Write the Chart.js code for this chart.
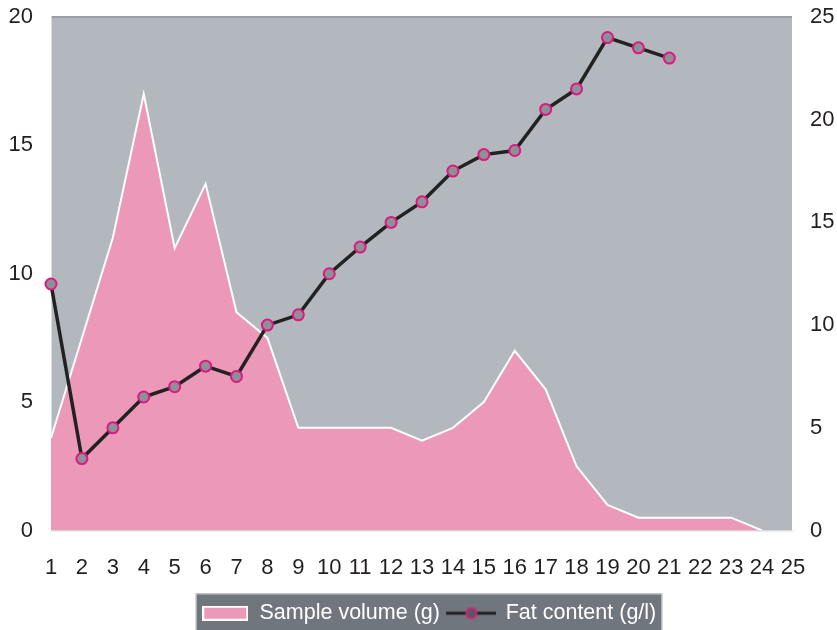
<!DOCTYPE html>
<html>
<head>
<meta charset="utf-8">
<title>Sample volume and fat content</title>
<script src="https://cdn.jsdelivr.net/npm/chart.js@4/dist/chart.umd.min.js"></script>
<style>
  body { margin: 0; background: #fff; }
</style>
</head>
<body>
<canvas id="myChart" width="837" height="630"></canvas>
<script>
// Data
var xValues = ["1", "2", "3", "4", "5", "6", "7", "8", "9", "10", "11", "12", "13",
  "14", "15", "16", "17", "18", "19", "20", "21", "22", "23", "24", "25"];
var volumeValues = [3.6, 7.5, 11.4, 17, 11, 13.5, 8.5, 7.5, 4, 4, 4, 4, 3.5,
  4, 5, 7, 5.5, 2.5, 1, 0.5, 0.5, 0.5, 0.5, 0, null];
var fatValues = [12, 3.5, 5, 6.5, 7, 8, 7.5, 10, 10.5, 12.5, 13.8, 15, 16,
  17.5, 18.3, 18.5, 20.5, 21.5, 24, 23.5, 23, null, null, null, null];
var volumeLabel = "Sample volume (g)";
var fatLabel = "Fat content (g/l)";
var leftMax = 20;
var rightMax = 25;

var pink = "#eb98b9";
var magenta = "#e0177f";
var font = { family: "'Liberation Sans', Arial, sans-serif", size: 22 };
var legendFont = { family: "'Liberation Sans', Arial, sans-serif", size: 21.5 };

// little legend symbols
function areaIcon() {
  var c = document.createElement("canvas");
  c.width = 46; c.height = 15;
  var ctx = c.getContext("2d");
  ctx.fillStyle = "#fff";
  ctx.fillRect(0, 0, 46, 15);
  ctx.fillStyle = pink;
  ctx.fillRect(2, 2, 42, 11);
  return c;
}
function lineIcon() {
  var c = document.createElement("canvas");
  c.width = 50; c.height = 14;
  var ctx = c.getContext("2d");
  ctx.strokeStyle = "#222";
  ctx.lineWidth = 3;
  ctx.beginPath();
  ctx.moveTo(0, 7); ctx.lineTo(50, 7);
  ctx.stroke();
  ctx.beginPath();
  ctx.arc(25, 7, 5, 0, Math.PI * 2);
  ctx.fillStyle = "#555a60";
  ctx.fill();
  ctx.strokeStyle = magenta;
  ctx.lineWidth = 2;
  ctx.stroke();
  return c;
}

// grey plot area + legend box
var backgrounds = {
  id: "backgrounds",
  beforeDraw: function (chart) {
    var ctx = chart.ctx;
    var a = chart.chartArea;
    ctx.save();
    ctx.fillStyle = "#b3b8bf";
    ctx.fillRect(a.left, a.top, a.right - a.left, a.bottom - a.top);
    ctx.strokeStyle = "#9a9ea5";
    ctx.lineWidth = 2;
    ctx.beginPath();
    ctx.moveTo(a.left, a.top);
    ctx.lineTo(a.right, a.top);
    ctx.stroke();

    var boxes = chart.legend.legendHitBoxes;
    if (boxes && boxes.length) {
      var l = boxes[0].left - 6;
      var last = boxes[boxes.length - 1];
      var r = last.left + last.width + 6;
      var t = boxes[0].top - 9;
      ctx.fillStyle = "#6f767d";
      ctx.fillRect(l, t, r - l, chart.height - t);
      ctx.strokeStyle = "#c8cbce";
      ctx.lineWidth = 1;
      ctx.strokeRect(l + 0.5, t + 0.5, r - l - 1, chart.height - t);
    }
    ctx.restore();
  }
};

function noPad(axis) {
  axis.paddingTop = 0;
  axis.paddingBottom = 0;
}

new Chart("myChart", {
  type: "line",
  data: {
    labels: xValues,
    datasets: [{
      label: volumeLabel,
      data: volumeValues,
      yAxisID: "y",
      fill: "origin",
      backgroundColor: pink,
      borderColor: "#fff",
      borderWidth: 2,
      pointRadius: 0,
      tension: 0,
      order: 1
    }, {
      label: fatLabel,
      data: fatValues,
      yAxisID: "y1",
      fill: false,
      borderColor: "#222",
      borderWidth: 3.5,
      pointRadius: 5.5,
      pointBackgroundColor: "#8c9197",
      pointBorderColor: magenta,
      pointBorderWidth: 2,
      tension: 0,
      order: 0
    }]
  },
  options: {
    responsive: false,
    animation: false,
    // negative right padding only to centre the legend like the original
    layout: { padding: { left: 6, right: -15, top: 17, bottom: -4 } },
    plugins: {
      tooltip: { enabled: false },
      legend: {
        position: "bottom",
        labels: {
          usePointStyle: true,
          pointStyleWidth: 47,
          color: "#fff",
          font: legendFont,
          padding: 8,
          generateLabels: function (chart) {
            return [
              { text: volumeLabel, pointStyle: areaIcon(), fontColor: "#fff", lineWidth: 0, datasetIndex: 0 },
              { text: fatLabel, pointStyle: lineIcon(), fontColor: "#fff", lineWidth: 0, datasetIndex: 1 }
            ];
          }
        }
      }
    },
    scales: {
      x: {
        offset: false,
        afterFit: function (axis) { axis.height = 64; },
        grid: { drawOnChartArea: false, color: "#fff", tickLength: 4 },
        border: { color: "#d9d9d9", width: 1.5 },
        ticks: { color: "#231f20", font: font, padding: 20, maxRotation: 0, autoSkip: false }
      },
      y: {
        position: "left",
        min: 0,
        max: leftMax,
        afterFit: function (axis) { axis.width = 45; noPad(axis); },
        grid: { drawOnChartArea: false, drawTicks: false },
        border: { color: "#fff", width: 1.5 },
        ticks: { stepSize: 5, color: "#231f20", font: font, padding: 18 }
      },
      y1: {
        position: "right",
        min: 0,
        max: rightMax,
        afterFit: function (axis) { axis.width = 59; noPad(axis); },
        grid: { drawOnChartArea: false, drawTicks: false },
        border: { color: "#fff", width: 1.5 },
        ticks: { stepSize: 5, color: "#231f20", font: font, padding: 17 }
      }
    }
  },
  plugins: [backgrounds]
});
</script>
</body>
</html>
